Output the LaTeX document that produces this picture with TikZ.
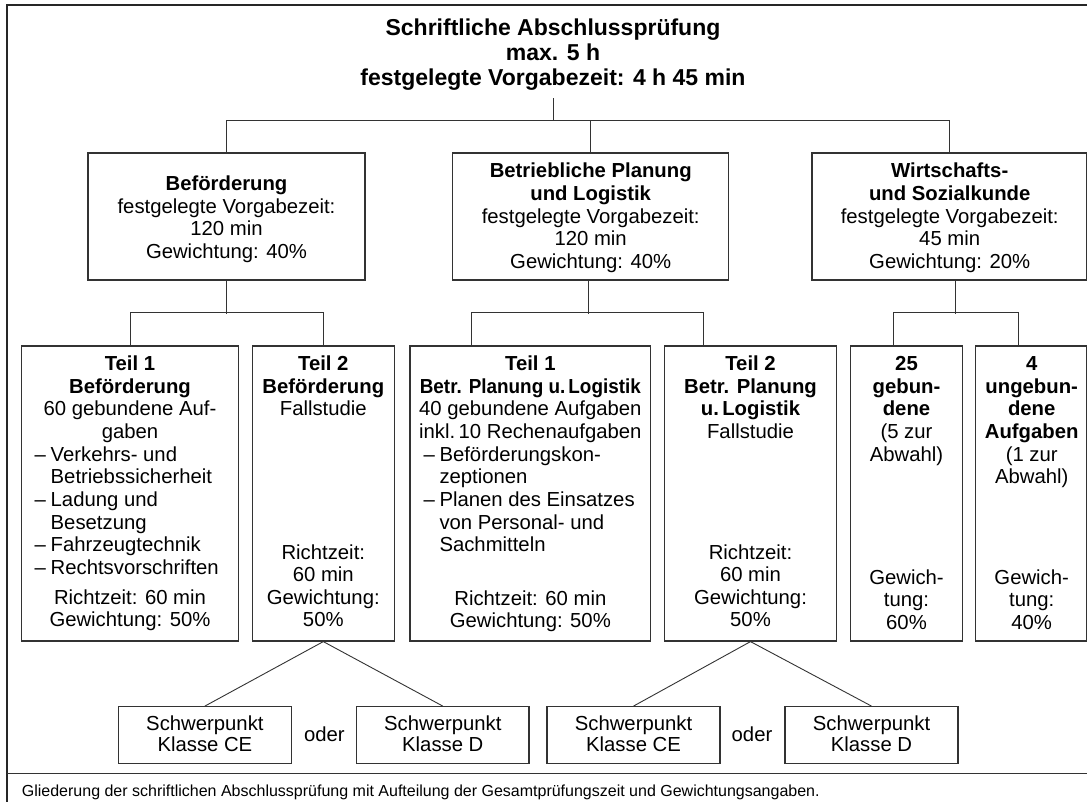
\documentclass[tikz,border=0pt]{standalone}
\usepackage{fontspec}
\setmainfont{Liberation Sans}
\newcommand\mybul{\makebox[16pt][l]{–}}
\newcommand\myind{\hspace*{16pt}}
\begin{document}
\begin{tikzpicture}[x=1pt,y=-1pt,
  box/.style={draw=black!80, line width=1.2pt, rectangle, inner sep=0pt},
  conn/.style={draw=black!80, line width=0.9pt},
  txt/.style={inner sep=0pt, align=center, font=\fontsize{20.3}{22.6}\selectfont},
  ltxt/.style={inner sep=0pt, align=left, font=\fontsize{20.3}{22.6}\selectfont},
  ttl/.style={inner sep=0pt, align=center, font=\bfseries\fontsize{23}{25}\selectfont},
  captxt/.style={inner sep=0pt, font=\fontsize{16}{19}\selectfont}]
\useasboundingbox (0,0) rectangle (1087,802);
% frame
\draw[line width=1.8pt, black!85] (7.3,806) -- (7.3,5) -- (1090,5);
\draw[line width=1.2pt, black!80] (7.3,773.3) -- (1090,773.3);
% title (base = baseline of last line)
\node[ttl, anchor=base] (title) at (553,86) {Schriftliche Abschlussprüfung\\max. 5 h\\festgelegte Vorgabezeit: 4 h 45 min};
% level 2 boxes
\node[box, minimum width=277, minimum height=127] (b1) at (226.5,216.5) {};
\node[box, minimum width=276, minimum height=127] (b2) at (590.7,216.5) {};
\node[box, minimum width=274.5, minimum height=127] (b3) at (949.25,216.5) {};
\node[txt, anchor=base] (b1t) at (226.5,258.3) {\textbf{Beförderung}\\festgelegte Vorgabezeit:\\120 min\\Gewichtung: 40\%};
\node[txt, anchor=base] (b2t) at (590.7,268.4) {\textbf{Betriebliche Planung}\\\textbf{und Logistik}\\festgelegte Vorgabezeit:\\120 min\\Gewichtung: 40\%};
\node[txt, anchor=base] (b3t) at (949.7,268.4) {\textbf{Wirtschafts-}\\\textbf{und Sozialkunde}\\festgelegte Vorgabezeit:\\45 min\\Gewichtung: 20\%};
% level 3 boxes
\node[box, minimum width=216.6, minimum height=295] (t1b) at (130,493.5) {};
\node[box, minimum width=142, minimum height=295] (t2b) at (323.3,493.5) {};
\node[box, minimum width=240.7, minimum height=295] (t1l) at (530.35,493.5) {};
\node[box, minimum width=172.4, minimum height=295] (t2l) at (750.5,493.5) {};
\node[box, minimum width=111.6, minimum height=295] (g25) at (906.5,493.5) {};
\node[box, minimum width=110.8, minimum height=295] (u4) at (1031.1,493.5) {};
% texts level 3
\node[txt, anchor=base] (t1bt) at (130,438.5) {\textbf{Teil 1}\\\textbf{Beförderung}\\60 gebundene Auf-\\gaben};
\node[ltxt, anchor=base west] (t1bl) at (34.5,574.2) {\mybul Verkehrs- und\\\myind Betriebssicherheit\\\mybul Ladung und\\\myind Besetzung\\\mybul Fahrzeugtechnik\\\mybul Rechtsvorschriften};
\node[txt, anchor=base] (t1bb) at (130,626.6) {Richtzeit: 60 min\\Gewichtung: 50\%};
\node[txt, anchor=base] (t2bt) at (323.3,415.9) {\textbf{Teil 2}\\\textbf{Beförderung}\\Fallstudie};
\node[txt, anchor=base] (t2bb) at (323.3,626.8) {Richtzeit:\\60 min\\Gewichtung:\\50\%};
\node[txt, anchor=base] (t1lt) at (530.35,438.5) {\textbf{Teil 1}\\\scalebox{0.93}[1]{\textbf{Betr. Planung u.\,Logistik}}\\40 gebundene Aufgaben\\inkl.\,10 Rechenaufgaben};
\node[ltxt, anchor=base west] (t1ll) at (423.3,551.6) {\mybul Beförderungskon-\\\myind zeptionen\\\mybul Planen des Einsatzes\\\myind von Personal- und\\\myind Sachmitteln};
\node[txt, anchor=base] (t1lb) at (530.35,627.6) {Richtzeit: 60 min\\Gewichtung: 50\%};
\node[txt, anchor=base] (t2lt) at (750.5,438.5) {\textbf{Teil 2}\\\textbf{Betr. Planung}\\\textbf{u.\,Logistik}\\Fallstudie};
\node[txt, anchor=base] (t2lb) at (750.5,626.8) {Richtzeit:\\60 min\\Gewichtung:\\50\%};
\node[txt, anchor=base] (g25t) at (906.5,461.1) {\textbf{25}\\\textbf{gebun-}\\\textbf{dene}\\(5 zur\\Abwahl)};
\node[txt, anchor=base] (g25b) at (906.5,629.2) {Gewich-\\tung:\\60\%};
\node[txt, anchor=base] (u4t) at (1031.7,483.7) {\textbf{4}\\\textbf{ungebun-}\\\textbf{dene}\\\textbf{Aufgaben}\\(1 zur\\Abwahl)};
\node[txt, anchor=base] (u4b) at (1031.7,629.2) {Gewich-\\tung:\\40\%};
% bottom boxes
\node[box, minimum width=172.5, minimum height=56.6] (s1) at (204.9,735) {};
\node[box, minimum width=172.2, minimum height=56.6] (s2) at (442.8,735) {};
\node[box, minimum width=173, minimum height=56.6] (s3) at (633.5,735) {};
\node[box, minimum width=173, minimum height=56.6] (s4) at (871.5,735) {};
\node[txt, anchor=base, font=\fontsize{20.3}{21.5}\selectfont] (s1t) at (204.9,751.5) {Schwerpunkt\\Klasse CE};
\node[txt, anchor=base, font=\fontsize{20.3}{21.5}\selectfont] (s2t) at (442.8,751.5) {Schwerpunkt\\Klasse D};
\node[txt, anchor=base, font=\fontsize{20.3}{21.5}\selectfont] (s3t) at (633.5,751.5) {Schwerpunkt\\Klasse CE};
\node[txt, anchor=base, font=\fontsize{20.3}{21.5}\selectfont] (s4t) at (871.5,751.5) {Schwerpunkt\\Klasse D};
\node[txt, anchor=base] (or1) at (324.4,741) {oder};
\node[txt, anchor=base] (or2) at (752,741) {oder};
% caption
\node[captxt, anchor=base west] (caption) at (21.7,796) {Gliederung der schriftlichen Abschlussprüfung mit Aufteilung der Gesamtprüfungszeit und Gewichtungsangaben.};
% connectors
\coordinate (tb) at (553.3,98.3);
\coordinate (j0) at (553.3,121);
\draw[conn] (tb) -- (j0);
\draw[conn] (b1.north) -- ++(0,-32) -| (b3.north);
\draw[conn] (b2.north) -- ++(0,-32);
\draw[conn] (b1.south) -- ++(0,33);
\draw[conn] (t1b.north) -- ++(0,-33) -| (t2b.north);
\draw[conn] ([xshift=-2]b2.south) -- ++(0,33);
\draw[conn] ([xshift=61.7]t1l.north west) -- ++(0,-33) -| ([xshift=40]t2l.north west);
\draw[conn] ([xshift=143.7]b3.south west) -- ++(0,33);
\draw[conn] ([xshift=43.3]g25.north west) -- ++(0,-33) -| ([xshift=43]u4.north west);
\draw[conn] (s1.north) -- (t2b.south) -- (s2.north);
\draw[conn] (s3.north) -- (t2l.south) -- (s4.north);
\end{tikzpicture}
\end{document}
